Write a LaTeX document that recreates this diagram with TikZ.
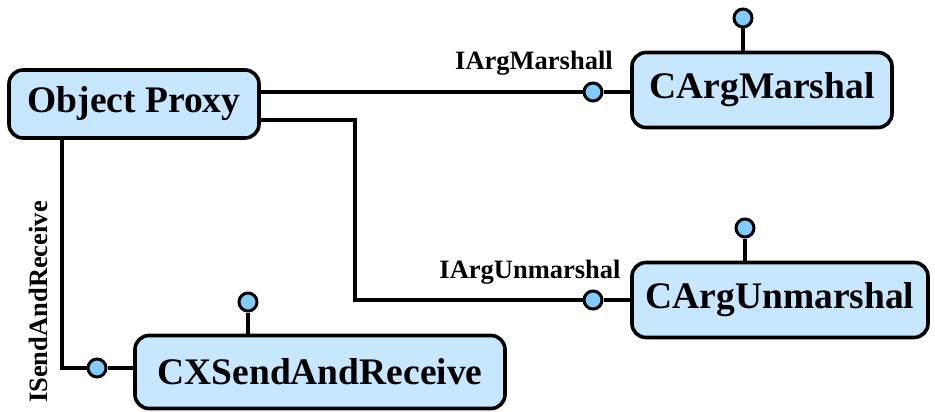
\documentclass[tikz,border=0pt]{standalone}
\usepackage{fontspec}
\setmainfont{Liberation Serif}
\begin{document}
\begin{tikzpicture}[x=1pt,y=-1pt,
  comp/.style={draw=black, line width=3.6pt, rounded corners=14pt, fill=boxblue,
    font=\fontsize{37.5}{37.5}\selectfont\bfseries, inner sep=0pt},
  lolli/.style={circle, draw=black, line width=3pt, fill=dotblue,
    minimum size=18pt, inner sep=0pt},
  wire/.style={line width=3.4pt, line cap=butt},
  iface/.style={font=\fontsize{26.5}{26.5}\selectfont\bfseries, inner sep=0pt}]
\definecolor{boxblue}{HTML}{C6E7FF}
\definecolor{dotblue}{HTML}{80CCFF}
\useasboundingbox (0,0) rectangle (935,412);

% components
\node[comp, minimum width=250pt, minimum height=68pt] (op) at (134,104) {Object Proxy};
\node[comp, minimum width=260pt, minimum height=75pt] (cm) at (762,90) {CArgMarshal};
\node[comp, minimum width=296pt, minimum height=75pt] (cu) at (780,300) {CArgUnmarshal};
\node[comp, minimum width=370pt, minimum height=73pt] (cx) at (320,372) {CXSendAndReceive};

% provided interfaces
\node[lolli] (i1) at (593,92) {};
\node[lolli] (i2) at (593,300) {};
\node[lolli] (i3) at (97,368) {};
\node[lolli] (t1) at (743,18) {};
\node[lolli] (t2) at (745,228) {};
\node[lolli] (t3) at (248,302) {};

% bends of the required-interface wires
\coordinate (k1) at (355,120);
\coordinate (k3) at (62,368);

% wires
\draw[wire] (op.east |- i1) -- (i1);
\draw[wire] (i1) -- (i1 -| cm.west);
\draw[wire] (op.east |- k1) -- (k1) |- (i2);
\draw[wire] (i2) -- (i2 -| cu.west);
\draw[wire] (op.south -| k3) -- (k3) -- (i3);
\draw[wire] (i3) -- (i3 -| cx.west);
\draw[wire] (t1) -- (t1 |- cm.north);
\draw[wire] (t2) -- (t2 |- cu.north);
\draw[wire] (t3) -- (t3 |- cx.north);

% interface labels
\node[iface] (l1) at (534,63) {IArgMarshall};
\node[iface] (l2) at (530,272) {IArgUnmarshal};
\node[iface, rotate=90] (l3) at (38,302) {ISendAndReceive};
\end{tikzpicture}
\end{document}
